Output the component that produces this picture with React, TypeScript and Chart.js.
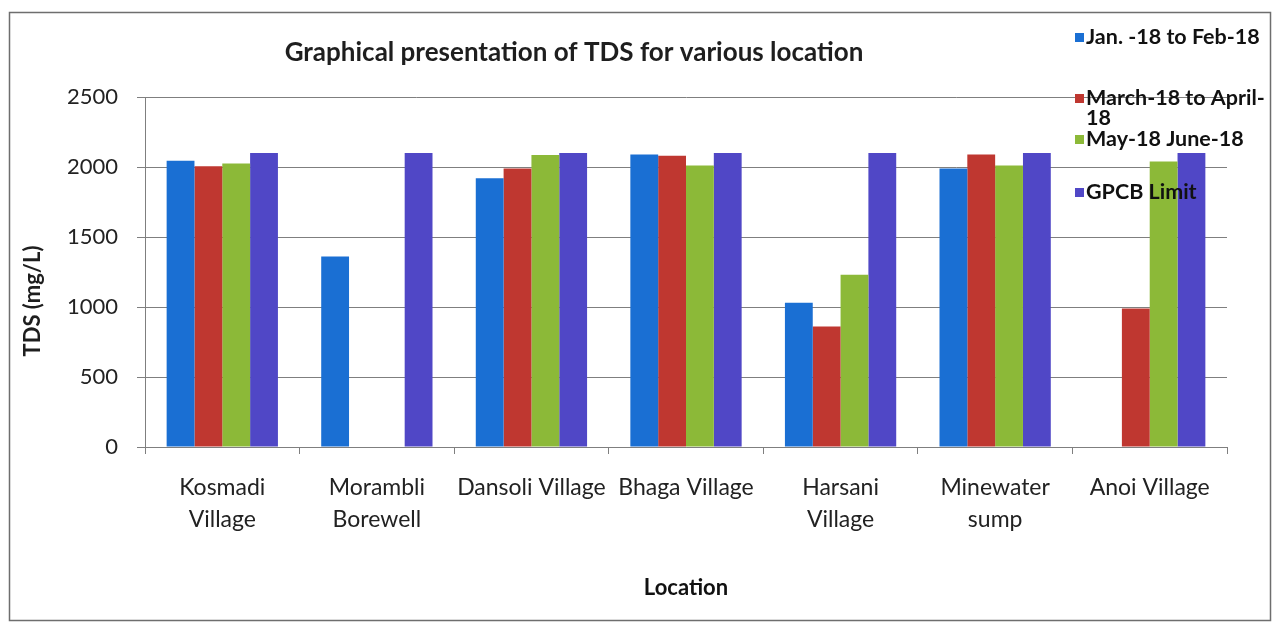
import React, { useEffect, useRef } from "react";
import { Chart, registerables } from "chart.js";

Chart.register(...registerables);

// ---------------- data ----------------
const categories: (string | string[])[] = [
  ["Kosmadi", "Village"],
  ["Morambli", "Borewell"],
  "Dansoli Village",
  "Bhaga Village",
  ["Harsani", "Village"],
  ["Minewater", "sump"],
  "Anoi Village",
];
const janFeb: (number | null)[] = [2045, 1360, 1920, 2090, 1030, 1990, null];
const marApr: (number | null)[] = [2005, null, 1990, 2080, 860, 2090, 990];
const mayJun: (number | null)[] = [2025, null, 2085, 2010, 1230, 2010, 2040];
const gpcbLimit: (number | null)[] = [2100, 2100, 2100, 2100, 2100, 2100, 2100];
const seriesNames = [
  "Jan. -18 to Feb-18",
  "March-18 to April-18",
  "May-18 June-18",
  "GPCB Limit",
];
const legendLines = [
  ["Jan. -18 to Feb-18"],
  ["March-18 to April-", "18"],
  ["May-18 June-18"],
  ["GPCB Limit"],
];
const yTicks = [0, 500, 1000, 1500, 2000, 2500];
const chartTitle = "Graphical presentation of TDS for various location";
const yTitle = "TDS (mg/L)";
const xTitle = "Location";

const colors = ["#1a6fd3", "#bf3730", "#8cb938", "#5047c6"];
const FONT = "Lato, 'Open Sans', sans-serif";

const decorPlugin = {
  id: "decor",
  beforeDraw(chart: any) {
    const ctx = chart.ctx;
    ctx.save();
    ctx.fillStyle = "#ffffff";
    ctx.fillRect(0, 0, chart.width, chart.height);
    ctx.restore();
  },
  afterDraw(chart: any) {
    const ctx = chart.ctx;
    ctx.save();
    // outer frame
    ctx.strokeStyle = "#6e6e6e";
    ctx.lineWidth = 1.5;
    ctx.strokeRect(9.5, 12.5, 1261, 608);

    // title
    ctx.fillStyle = "#1e1e1e";
    ctx.font = `bold 26px ${FONT}`;
    ctx.textAlign = "center";
    ctx.textBaseline = "middle";
    ctx.fillText(chartTitle, 574, 53);

    // y axis title
    ctx.save();
    ctx.translate(33, 301);
    ctx.rotate(-Math.PI / 2);
    ctx.font = `bold 22px ${FONT}`;
    ctx.fillText(yTitle, 0, 0);
    ctx.restore();

    // legend
    const rows = [[37], [98, 118], [139], [192]];
    ctx.textAlign = "left";
    ctx.font = `bold 21.5px ${FONT}`;
    legendLines.forEach((lines, i) => {
      const ys = rows[i];
      ctx.fillStyle = colors[i];
      ctx.fillRect(1075, ys[0] - 4, 9, 9);
      ctx.fillStyle = "#111111";
      lines.forEach((t, j) => ctx.fillText(t, 1086, ys[j]));
    });
    ctx.restore();
  },
};

export default function App() {
  const ref = useRef<HTMLCanvasElement | null>(null);

  useEffect(() => {
    document.body.style.margin = "0";
    document.body.style.overflow = "hidden";
    const canvas = ref.current;
    if (!canvas) return;
    const series = [janFeb, marApr, mayJun, gpcbLimit];
    const chart = new Chart(canvas, {
      type: "bar",
      data: {
        labels: categories,
        datasets: series.map((d, i) => ({
          label: seriesNames[i],
          data: d,
          backgroundColor: colors[i],
          borderWidth: 0,
          categoryPercentage: 0.72,
          barPercentage: 1.0,
        })),
      },
      options: {
        animation: false,
        responsive: false,
        layout: { padding: { left: 0, top: 97, right: 51, bottom: 0 } },
        plugins: {
          legend: { display: false },
          title: { display: false },
          tooltip: { enabled: false },
        },
        scales: {
          x: {
            grid: {
              display: true,
              drawOnChartArea: false,
              drawTicks: true,
              tickLength: 7,
              color: "#7f7f7f",
              offset: true,
            },
            border: { display: true, color: "#7f7f7f", width: 1 },
            ticks: {
              font: { family: FONT, size: 23, lineHeight: 32 / 23 },
              color: "#222222",
              padding: 18,
              maxRotation: 0,
              minRotation: 0,
              autoSkip: false,
            },
            title: {
              display: true,
              text: xTitle,
              font: { family: FONT, size: 22, weight: "bold" },
              color: "#111111",
              padding: { top: 0, bottom: 22 },
            },
            afterFit: (s: any) => {
              s.height = 176;
            },
          },
          y: {
            min: 0,
            max: 2500,
            afterBuildTicks: (s: any) => {
              s.ticks = yTicks.map((v) => ({ value: v }));
            },
            ticks: {
              font: { family: FONT, size: 22 },
              color: "#222222",
              padding: 19,
              callback: (v: any) => String(v),
            },
            grid: { color: "#7f7f7f", tickLength: 8, drawTicks: true },
            border: { display: true, color: "#7f7f7f" },
            afterFit: (s: any) => {
              s.width = 145;
            },
          },
        },
      },
      plugins: [decorPlugin],
    });
    return () => chart.destroy();
  }, []);

  return (
    <div style={{ width: 1278, height: 623 }}>
      <canvas ref={ref} width={1278} height={623} style={{ display: "block" }} />
    </div>
  );
}
